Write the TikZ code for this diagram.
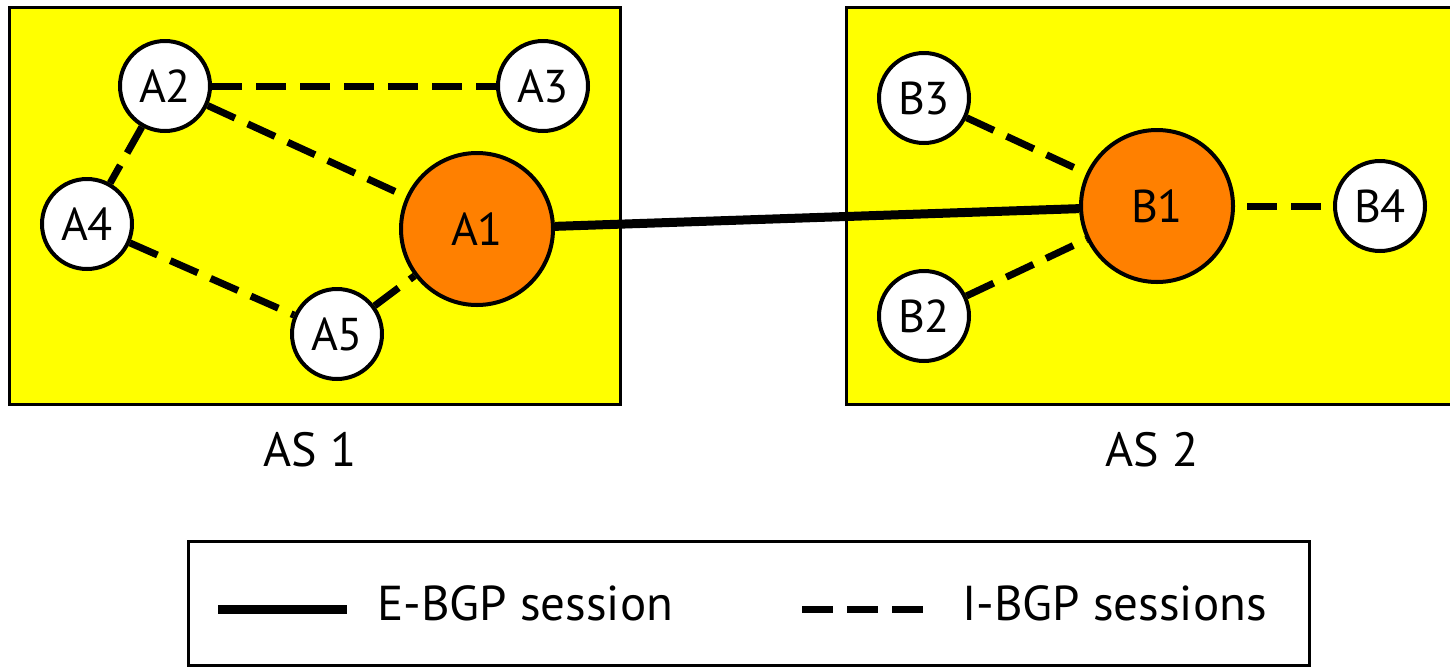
\documentclass[tikz,border=0pt]{standalone}
\usepackage{fontspec}
\setmainfont{PT Sans}
\definecolor{asyellow}{HTML}{FFFF00}
\definecolor{rorange}{HTML}{FF8000}
\begin{document}
\begin{tikzpicture}[x=1pt,y=-1pt,
  small/.style={circle,draw=black,line width=4pt,fill=white,minimum size=90pt,inner sep=0pt,font=\fontsize{46}{55}\selectfont},
  big/.style={circle,draw=black,line width=4pt,fill=rorange,minimum size=152pt,inner sep=0pt,font=\fontsize{46}{55}\selectfont},
  ibgp/.style={line width=7pt,dash pattern=on 30pt off 14pt},
  ebgp/.style={line width=9pt},
  lbl/.style={inner sep=0pt,font=\fontsize{48}{58}\selectfont}]
\useasboundingbox (0,0) rectangle (1450,667);
% AS boxes
\fill[asyellow] (9,7) rectangle (620,404);
\draw[line width=3pt] (9,7) rectangle (620,404);
\fill[asyellow] (846,7) rectangle (1450,404);
\draw[line width=3pt] (1452,7) -- (846,7) -- (846,404) -- (1452,404);
% nodes
\node[small] (A2) at (165,86) {A2};
\node[small] (A3) at (543,86) {A3};
\node[small] (A4) at (87,224) {A4};
\node[big]   (A1) at (477,229) {A1};
\node[small] (A5) at (337,334) {A5};
\node[small] (B3) at (924,98) {B3};
\node[big]   (B1) at (1157,206) {B1};
\node[small] (B4) at (1380,206) {B4};
\node[small] (B2) at (924,316) {B2};
% sessions
\draw[ibgp] (A2) -- (A3);
\draw[ibgp] (A2) -- (A1);
\draw[ibgp] (A2) -- (A4);
\draw[ibgp] (A4) -- (A5);
\draw[ibgp] (A5) -- (A1);
\draw[ibgp] (B3) -- (B1);
\draw[ibgp] (B2) -- (B1);
\draw[ibgp,dash phase=32pt] (B1) -- (B4);
\draw[ebgp] (A1) -- (B1);
% labels
\node[lbl,anchor=base] (as1) at (310,466) {AS 1};
\node[lbl,anchor=base] (as2) at (1152,466) {AS 2};
% legend
\draw[line width=3pt] (188,541) rectangle (1309,665);
\coordinate (e1) at (218,609.5);
\coordinate (e2) at (347,609.5);
\coordinate (i1) at (802,609.5);
\coordinate (i2) at (923,609.5);
\draw[ebgp] (e1) -- (e2);
\draw[ibgp,dash pattern=on 31pt off 14pt] (i1) -- (i2);
\node[lbl,anchor=base west,font=\fontsize{49}{58}\selectfont] (et) at (377,620) {E-BGP session};
\node[lbl,anchor=base west,font=\fontsize{49}{58}\selectfont] (it) at (962,620) {I-BGP sessions};
\end{tikzpicture}
\end{document}
